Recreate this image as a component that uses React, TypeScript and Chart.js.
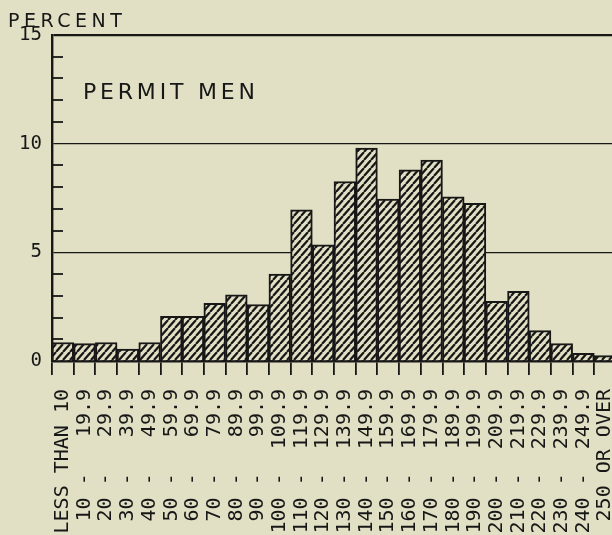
import React, { useEffect, useRef } from "react";
import { Chart, registerables } from "chart.js";

Chart.register(...registerables);

// ---- data ----
const categories: string[] = [
  "LESS THAN 10",
  "10 - 19.9",
  "20 - 29.9",
  "30 - 39.9",
  "40 - 49.9",
  "50 - 59.9",
  "60 - 69.9",
  "70 - 79.9",
  "80 - 89.9",
  "90 - 99.9",
  "100 - 109.9",
  "110 - 119.9",
  "120 - 129.9",
  "130 - 139.9",
  "140 - 149.9",
  "150 - 159.9",
  "160 - 169.9",
  "170 - 179.9",
  "180 - 189.9",
  "190 - 199.9",
  "200 - 209.9",
  "210 - 219.9",
  "220 - 229.9",
  "230 - 239.9",
  "240 - 249.9",
  "250 OR OVER",
];

const percentValues: number[] = [
  0.85, 0.8, 0.85, 0.55, 0.85, 2.05, 2.05, 2.65, 3.05, 2.6, 4.0, 6.95, 5.35,
  8.25, 9.8, 7.45, 8.8, 9.25, 7.55, 7.25, 2.75, 3.2, 1.4, 0.8, 0.35, 0.25,
];

const yMin = 0;
const yMax = 15;
const yMajorStep = 5;
const yMinorStep = 1;

const chartTitle = "PERMIT MEN";
const yAxisTitle = "PERCENT";

// ---- styles ----
const BG = "#e2e0c4";
const INK = "#171717";
const CANVAS_W = 620;
const CANVAS_H = 600;
const NBSP = "\u00A0";

function makeHatch(): CanvasPattern | string {
  const w = 7;
  const h = 8;
  const c = document.createElement("canvas");
  c.width = w;
  c.height = h;
  const g = c.getContext("2d");
  if (!g) return BG;
  g.fillStyle = BG;
  g.fillRect(0, 0, w, h);
  g.strokeStyle = INK;
  g.lineWidth = 2.2;
  g.beginPath();
  g.moveTo(0, h);
  g.lineTo(w, 0);
  g.moveTo(-w, h);
  g.lineTo(0, 0);
  g.moveTo(w, h);
  g.lineTo(2 * w, 0);
  g.stroke();
  const p = g.createPattern(c, "repeat");
  return p || BG;
}

function padLeft(s: string, n: number): string {
  let out = s;
  while (out.length < n) out = NBSP + out;
  return out;
}

function formatCategory(s: string): string {
  const m = s.match(/^(\S+) - (\S+)$/);
  if (!m) return s.replace(/ /g, NBSP);
  return padLeft(m[1], 3) + NBSP + "-" + NBSP + padLeft(m[2], 6);
}

const decorPlugin = {
  id: "decor",
  afterDatasetsDraw(chart: any) {
    const { ctx, chartArea } = chart;
    const y = chart.scales.y;
    ctx.save();
    ctx.strokeStyle = INK;
    ctx.lineWidth = 1.8;
    for (let v = yMin + yMinorStep; v < yMax; v += yMinorStep) {
      if (v % yMajorStep === 0) continue;
      const py = Math.round(y.getPixelForValue(v));
      ctx.beginPath();
      ctx.moveTo(chartArea.left, py);
      ctx.lineTo(chartArea.left + 11, py);
      ctx.stroke();
    }
    ctx.restore();
  },
  afterDraw(chart: any) {
    const { ctx } = chart;
    ctx.save();
    ctx.fillStyle = INK;
    ctx.textAlign = "left";
    ctx.textBaseline = "alphabetic";
    const hasLS = "letterSpacing" in ctx;
    ctx.font = "19px 'DejaVu Sans'";
    if (hasLS) (ctx as any).letterSpacing = "4.5px";
    ctx.fillText(yAxisTitle, 8, 27);
    ctx.font = "22px 'DejaVu Sans'";
    if (hasLS) (ctx as any).letterSpacing = "3.8px";
    ctx.fillText(chartTitle, 83, 99);
    if (hasLS) (ctx as any).letterSpacing = "0px";
    ctx.restore();
  },
};

export default function App() {
  const canvasRef = useRef<HTMLCanvasElement | null>(null);

  useEffect(() => {
    const canvas = canvasRef.current;
    if (!canvas) return;
    const hatch = makeHatch();
    const chart = new Chart(canvas, {
      type: "bar",
      data: {
        labels: categories,
        datasets: [
          {
            data: percentValues,
            backgroundColor: hatch as any,
            borderColor: INK,
            borderWidth: 2,
            categoryPercentage: 1,
            barPercentage: 1,
          },
        ],
      },
      options: {
        responsive: false,
        animation: false,
        devicePixelRatio: 1,
        layout: { padding: { top: 35, left: 0, right: 4, bottom: 0 } },
        plugins: {
          legend: { display: false },
          tooltip: { enabled: false },
          title: { display: false },
        },
        scales: {
          x: {
            type: "category",
            offset: true,
            grid: {
              display: true,
              offset: true,
              drawOnChartArea: false,
              drawTicks: true,
              tickLength: 14,
              color: INK,
              lineWidth: 1.8,
            },
            border: { display: true, color: INK, width: 2.6 },
            ticks: {
              autoSkip: false,
              maxRotation: 90,
              minRotation: 90,
              padding: 14,
              color: INK,
              font: { family: "'DejaVu Sans Mono'", size: 20 },
              callback: (_v: any, i: number) => formatCategory(categories[i]),
            },
            afterFit: (s: any) => {
              s.height = CANVAS_H - 361;
              s.paddingLeft = 0;
              s.paddingRight = 0;
            },
          },
          y: {
            min: yMin,
            max: yMax,
            ticks: {
              stepSize: yMajorStep,
              padding: 10,
              color: INK,
              font: { family: "'DejaVu Sans Mono'", size: 19 },
            },
            grid: {
              color: INK,
              drawTicks: false,
              lineWidth: (c: any) => (c.tick && c.tick.value === yMax ? 2.2 : 1.3),
            },
            border: { display: true, color: INK, width: 2.4 },
            afterFit: (s: any) => {
              s.width = 52;
            },
          },
        },
      },
      plugins: [decorPlugin],
    } as any);
    return () => chart.destroy();
  }, []);

  return (
    <div
      style={{
        position: "fixed",
        left: 0,
        top: 0,
        width: 612,
        height: 535,
        overflow: "hidden",
        background: BG,
      }}
    >
      <canvas
        ref={canvasRef}
        width={CANVAS_W}
        height={CANVAS_H}
        style={{ display: "block", width: CANVAS_W, height: CANVAS_H }}
      />
    </div>
  );
}
